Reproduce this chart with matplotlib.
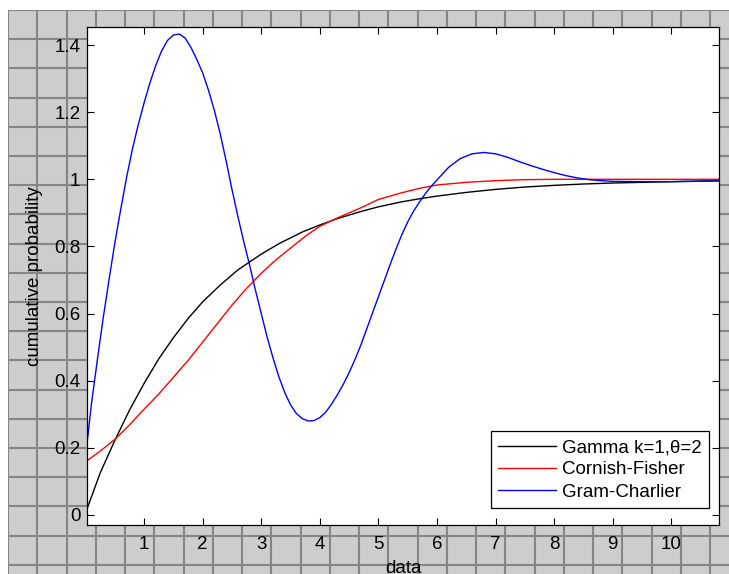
import numpy as np
import matplotlib
matplotlib.use('Agg')
from matplotlib import pyplot as plt

plt.rcParams['font.family'] = ['Liberation Sans', 'DejaVu Sans']

#~~ exact cdf of Gamma(k=1, theta=2)
gamma_x = [0.03, 0.25, 0.5, 0.75, 1.0, 1.25, 1.5, 1.75, 2.0, 2.3, 2.6, 3.0, 3.3, 3.7, 4.0,
           4.3, 4.7, 5.0, 5.4, 5.7, 6.0, 6.5, 7.0, 7.5, 8.0, 8.5, 9.0, 9.5, 10.0, 10.82]
gamma_y = [0.02, 0.125, 0.222, 0.312, 0.392, 0.465, 0.528, 0.585, 0.635, 0.685, 0.73, 0.777, 0.808, 0.843, 0.864,
           0.883, 0.904, 0.918, 0.933, 0.942, 0.95, 0.961, 0.97, 0.977, 0.982, 0.986, 0.989, 0.991, 0.993, 0.996]

#~~ Cornish-Fisher approximation
cf_x = [0.03, 0.25, 0.5, 0.75, 1.0, 1.25, 1.5, 1.75, 2.0, 2.25, 2.5, 2.75, 3.0, 3.25, 3.5,
        3.75, 4.0, 4.3, 4.7, 5.0, 5.4, 5.7, 6.0, 6.5, 7.0, 7.5, 8.0, 9.0, 10.0, 10.82]
cf_y = [0.162, 0.19, 0.225, 0.268, 0.315, 0.36, 0.41, 0.46, 0.515, 0.57, 0.625, 0.675, 0.72, 0.76, 0.795,
        0.83, 0.86, 0.885, 0.915, 0.94, 0.96, 0.973, 0.983, 0.991, 0.996, 0.999, 1.0, 1.0, 1.0, 1.0]

#~~ Gram-Charlier approximation
gc_x = [0.03, 0.1, 0.2, 0.3, 0.4, 0.5, 0.6, 0.7, 0.8, 0.9, 1.0, 1.1, 1.2, 1.3, 1.4, 1.5,
        1.6, 1.7, 1.8, 1.9, 2.0, 2.1, 2.2, 2.3, 2.4, 2.5, 2.6, 2.7, 2.8, 2.9, 3.0,
        3.1, 3.2, 3.3, 3.4, 3.5, 3.6, 3.7, 3.8, 3.9, 4.0, 4.1, 4.2, 4.3, 4.4, 4.5,
        4.6, 4.7, 4.8, 4.9, 5.0, 5.1, 5.2, 5.3, 5.4, 5.5, 5.6, 5.7, 5.8, 5.9, 6.0,
        6.2, 6.4, 6.6, 6.8, 7.0, 7.2, 7.4, 7.6, 7.8, 8.0, 8.2, 8.4, 8.6, 8.8, 9.0,
        9.5, 10.0, 10.82]
gc_y = [0.22, 0.33, 0.46, 0.585, 0.70, 0.81, 0.91, 1.005, 1.09, 1.163, 1.228, 1.288, 1.34, 1.383, 1.414, 1.43,
        1.433, 1.421, 1.393, 1.357, 1.317, 1.265, 1.205, 1.135, 1.055, 0.97, 0.89, 0.815, 0.745, 0.67, 0.60,
        0.53, 0.468, 0.412, 0.365, 0.328, 0.302, 0.287, 0.28, 0.281, 0.29, 0.306, 0.33, 0.358, 0.389, 0.424,
        0.463, 0.506, 0.554, 0.602, 0.65, 0.698, 0.746, 0.792, 0.835, 0.873, 0.905, 0.932, 0.957, 0.979, 0.998,
        1.036, 1.062, 1.076, 1.08, 1.076, 1.066, 1.053, 1.041, 1.03, 1.02, 1.011, 1.004, 0.999, 0.996, 0.994,
        0.993, 0.993, 0.995]

series_labels = ['Gamma k=1,\u03b8=2', 'Cornish-Fisher', 'Gram-Charlier']
series_colors = ['black', '#ff0000', '#0000ff']

xtick_vals = [1, 2, 3, 4, 5, 6, 7, 8, 9, 10]
ytick_vals = [0, 0.2, 0.4, 0.6, 0.8, 1.0, 1.2, 1.4]
ytick_labels = ['0', '0.2', '0.4', '0.6', '0.8', '1', '1.2', '1.4']

W, H = 729, 574
fs = 13.5

fig = plt.figure(figsize=(W / 100., H / 100.), dpi=100)
fig.patch.set_facecolor('white')

#~~ gray window background with a square grid behind the plot
bg = fig.add_axes([8. / W, 0, (W - 8.) / W, (H - 10.) / H])
bg.set_facecolor('#cdcdcd')
bg.set_xlim(0, W - 8)
bg.set_ylim(H - 10, 0)
bg.set_xticks(np.arange(0, W - 8, 29.25))
bg.set_yticks(np.arange(0, H - 10, 29.2))
bg.grid(True, color='#858585', linewidth=1.5)
bg.tick_params(length=0, labelbottom=False, labelleft=False)
for s in bg.spines.values():
    s.set_visible(False)

#~~ main axes (pixel box of the plot area)
ax = fig.add_axes([87.3 / W, (H - 525.3) / H, (719.3 - 87.3) / W, (525.3 - 27.3) / H])
ax.set_facecolor('white')

ax.plot(gamma_x, gamma_y, color=series_colors[0], lw=1.0, label=series_labels[0])
ax.plot(cf_x, cf_y, color=series_colors[1], lw=1.0, label=series_labels[1])
ax.plot(gc_x, gc_y, color=series_colors[2], lw=1.0, label=series_labels[2])

ax.set_xlim(0.03, 10.82)
ax.set_ylim(-0.031, 1.453)
ax.set_xticks(xtick_vals)
ax.set_yticks(ytick_vals)
ax.set_yticklabels(ytick_labels)
ax.tick_params(direction='in', top=True, right=True, length=4.8, width=0.8,
               labelsize=fs, colors='black')
ax.tick_params(axis='x', pad=7.5)
ax.tick_params(axis='y', pad=5)
for s in ax.spines.values():
    s.set_linewidth(0.9)
    s.set_color('black')

ax.set_xlabel('data', fontsize=fs, labelpad=5)
ax.set_ylabel('cumulative probability', fontsize=fs, labelpad=8)

leg = ax.legend(loc='lower right', bbox_to_anchor=(0.9842, 0.0341), borderaxespad=0,
                fancybox=False, edgecolor='black', framealpha=1, fontsize=fs,
                handlelength=3.1, handletextpad=0.3, borderpad=0.4, labelspacing=0.28)
leg.get_frame().set_linewidth(0.9)

fig.savefig('out.png', dpi=100)
print('saved out.png')
